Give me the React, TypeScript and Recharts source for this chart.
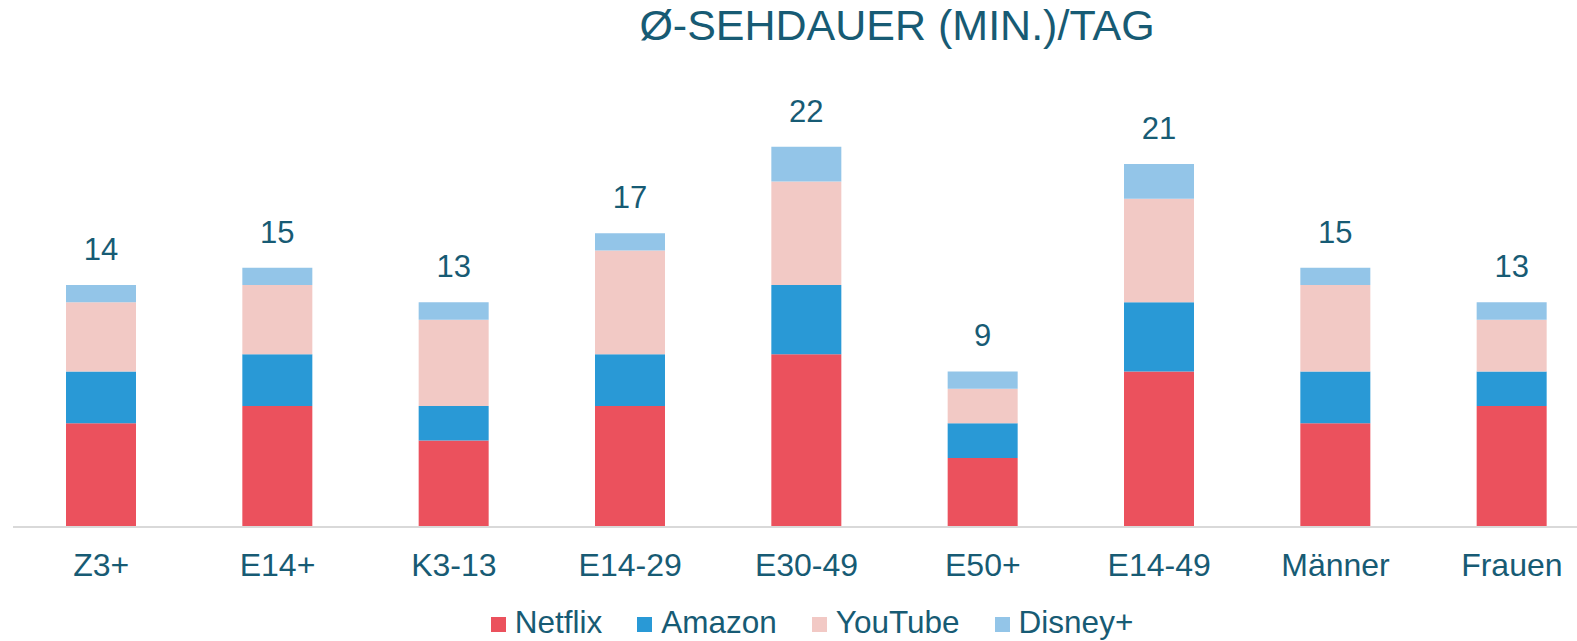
import React from "react";
import { BarChart, Bar, XAxis, YAxis, LabelList } from "recharts";

const groups = ["Z3+", "E14+", "K3-13", "E14-29", "E30-49", "E50+", "E14-49", "Männer", "Frauen"];
const netflix = [6, 7, 5, 7, 10, 4, 9, 6, 7];
const amazon = [3, 3, 2, 3, 4, 2, 4, 3, 2];
const youtube = [4, 4, 5, 6, 6, 2, 6, 5, 3];
const disney = [1, 1, 1, 1, 2, 1, 2, 1, 1];
const totals = [14, 15, 13, 17, 22, 9, 21, 15, 13];

const series = [
  { key: "netflix", name: "Netflix", color: "#EB515D" },
  { key: "amazon", name: "Amazon", color: "#2999D6" },
  { key: "youtube", name: "YouTube", color: "#F2C9C5" },
  { key: "disney", name: "Disney+", color: "#93C5E8" },
];

const data = groups.map((g, i) => ({
  group: g,
  netflix: netflix[i],
  amazon: amazon[i],
  youtube: youtube[i],
  disney: disney[i],
  total: totals[i],
}));

const TEXT = "#175B74";
const FONT = '"Liberation Sans", Arial, sans-serif';

const GroupTick = (props: any) => {
  const { x, y, payload } = props;
  return (
    <text x={x} y={y + 49} textAnchor="middle" fill={TEXT} fontSize={32} fontFamily={FONT}>
      {payload.value}
    </text>
  );
};

const TotalLabel = (props: any) => {
  const { x, y, width, index } = props;
  return (
    <text x={x + width / 2} y={y - 25} textAnchor="middle" fill={TEXT} fontSize={31} fontFamily={FONT}>
      {totals[index]}
    </text>
  );
};

export default function App() {
  return (
    <div style={{ position: "absolute", left: 0, top: 0, width: 1577, height: 641, overflow: "hidden", background: "#fff", fontFamily: FONT }}>
      <div
        style={{
          position: "absolute",
          left: 0,
          width: 1794,
          top: 4,
          textAlign: "center",
          fontSize: 43,
          lineHeight: "43px",
          color: TEXT,
        }}
      >
        Ø-SEHDAUER (MIN.)/TAG
      </div>
      <div style={{ position: "absolute", top: 0, left: 0 }}>
        <BarChart width={1600} height={641} data={data} margin={{ top: 95, right: 0, bottom: 84, left: 13 }} barSize={70}>
          <XAxis
            dataKey="group"
            axisLine={{ stroke: "#D9D9D9", strokeWidth: 2 }}
            tickLine={false}
            tickSize={0}
            tickMargin={0}
            interval={0}
            height={30}
            tick={<GroupTick />}
          />
          <YAxis hide domain={[0, 25]} />
          {series.map((s, i) => (
            <Bar key={s.key} dataKey={s.key} name={s.name} stackId="a" fill={s.color} isAnimationActive={false}>
              {i === series.length - 1 ? <LabelList dataKey="total" content={<TotalLabel />} /> : null}
            </Bar>
          ))}
        </BarChart>
      </div>
      <div
        style={{
          position: "absolute",
          left: 0,
          width: 1624,
          top: 607,
          display: "flex",
          justifyContent: "center",
          gap: 35,
          fontSize: 31.5,
          lineHeight: "31px",
          color: TEXT,
        }}
      >
        {series.map((s) => (
          <div key={s.key} style={{ display: "flex", alignItems: "center" }}>
            <span style={{ display: "inline-block", width: 15, height: 15, background: s.color, marginRight: 9, transform: "translateY(2px)" }} />
            <span>{s.name}</span>
          </div>
        ))}
      </div>
    </div>
  );
}
